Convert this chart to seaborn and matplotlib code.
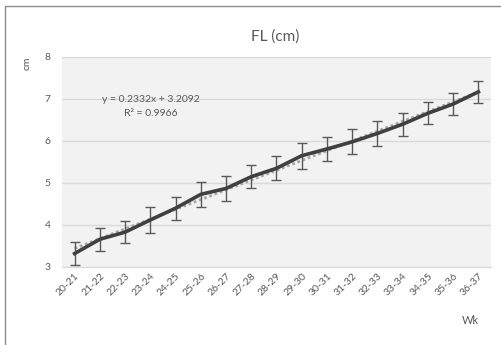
import numpy as np
import pandas as pd
import matplotlib
matplotlib.use("Agg")
import matplotlib.pyplot as plt
import seaborn as sns
from matplotlib.patches import Rectangle

weeks = ["20-21", "21-22", "22-23", "23-24", "24-25", "25-26", "26-27", "27-28", "28-29",
         "29-30", "30-31", "31-32", "32-33", "33-34", "34-35", "35-36", "36-37"]
fl_mean = [3.32, 3.66, 3.83, 4.12, 4.40, 4.73, 4.87, 5.15, 5.35,
           5.65, 5.81, 5.98, 6.18, 6.40, 6.66, 6.88, 7.17]
fl_err = [0.28, 0.28, 0.27, 0.31, 0.27, 0.29, 0.30, 0.27, 0.29,
          0.31, 0.29, 0.30, 0.30, 0.27, 0.26, 0.27, 0.27]

df = pd.DataFrame({"pos": np.arange(len(weeks)), "wk": weeks, "fl": fl_mean, "err": fl_err})

grey = "#595959"
plt.rcParams["font.family"] = ["Lato", "DejaVu Sans"]

fig = plt.figure(figsize=(5.02, 3.45), dpi=100)
fig.patches.append(Rectangle((5 / 502, -0.1), 1.2, 1 - 6 / 345 + 0.1, transform=fig.transFigure,
                             fill=False, edgecolor="#8c8c8c", linewidth=1.0))
ax = fig.add_axes([62 / 502, 1 - 267 / 345, 429 / 502, 210 / 345])
ax.set_facecolor("#f2f2f2")

# trendline (linear fit, dotted like Excel)
sns.regplot(x=df["pos"], y=df["fl"], ax=ax, scatter=False, ci=None, truncate=True,
            line_kws=dict(color="#a6a6a6", linestyle=(0, (1, 1)), linewidth=2.0, zorder=3))
ax.errorbar(df["pos"], df["fl"], yerr=df["err"], fmt="none", ecolor=grey,
            elinewidth=1.0, capsize=3.5, capthick=1.0, zorder=4)
sns.lineplot(x="pos", y="fl", data=df, ax=ax, color="#404040", linewidth=2.6, zorder=5)

ax.set_xlim(-0.5, len(weeks) - 0.5)
ax.set_ylim(3, 8)
ax.set_yticks([3, 4, 5, 6, 7, 8])
ax.grid(axis="y", color="#d9d9d9", linewidth=1.0)
ax.set_axisbelow(True)
ax.set_xticks(df["pos"])
ax.set_xticklabels(weeks, rotation=45, ha="right", rotation_mode="anchor")
ax.tick_params(axis="both", length=0, labelsize=7.5, colors=grey, pad=8)
ax.tick_params(axis="x", pad=3)
for s in ax.spines.values():
    s.set_visible(False)
ax.spines["bottom"].set_visible(True)
ax.spines["bottom"].set_color("#d9d9d9")
ax.set_xlabel("")
ax.set_ylabel("")

fig.text(275 / 502, 1 - 37 / 345, "FL (cm)", ha="center", va="center", fontsize=11, color=grey)
fig.text(27 / 502, 1 - 63 / 345, "cm", ha="center", va="center", rotation=90, fontsize=7.5, color=grey)
fig.text(470 / 502, 1 - 320 / 345, "Wk", ha="center", va="center", fontsize=8, color=grey)
fig.text(151 / 502, 1 - 99 / 345, "y = 0.2332x + 3.2092", ha="center", va="center", fontsize=7.5, color=grey)
fig.text(151 / 502, 1 - 113 / 345, "R² = 0.9966", ha="center", va="center", fontsize=7.5, color=grey)

fig.savefig("out.png", dpi=100)
